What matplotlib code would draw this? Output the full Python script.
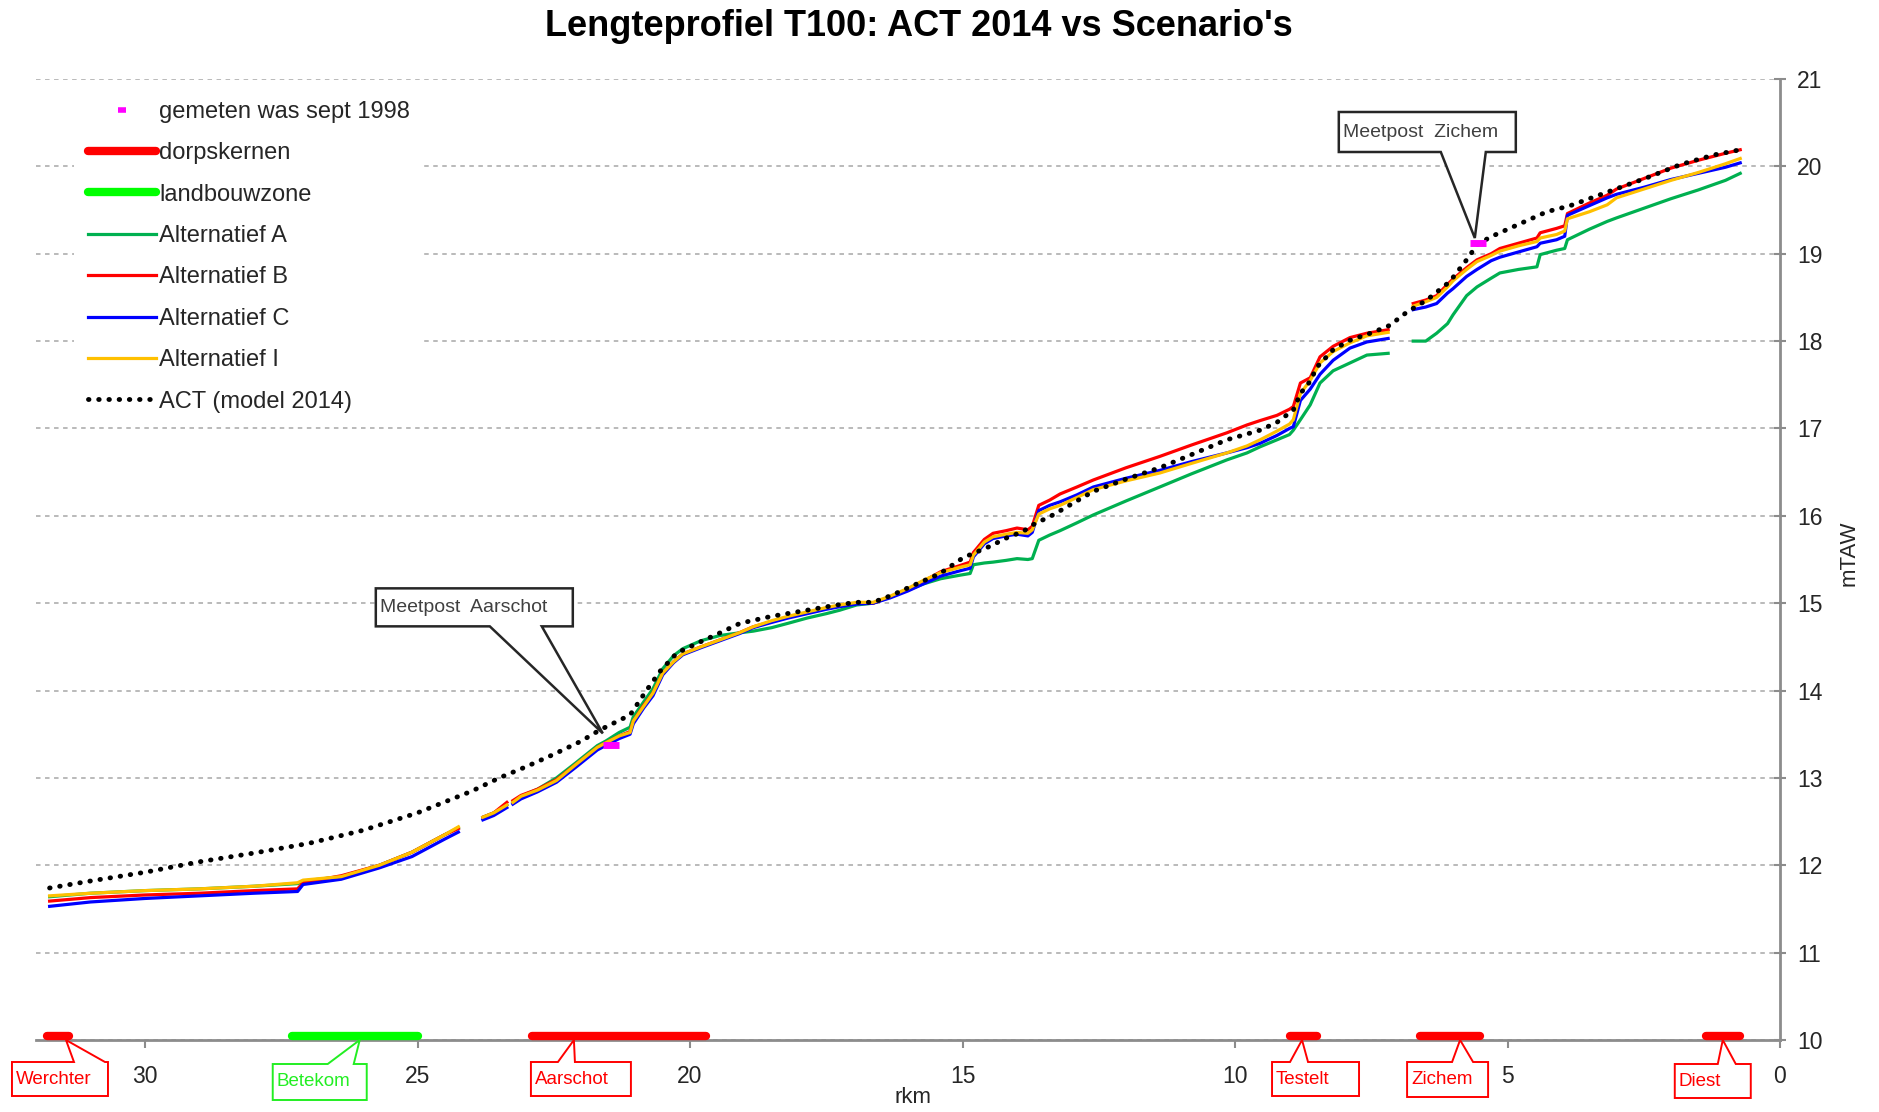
import matplotlib
matplotlib.use("Agg")

import numpy as np
import matplotlib.pyplot as plt
from matplotlib.lines import Line2D
from matplotlib.patches import Polygon
from matplotlib.transforms import IdentityTransform

plt.rcParams["font.family"] = ["Liberation Sans", "DejaVu Sans"]

nan = np.nan

# ──────────────────────────────────────────────
# Data (rkm, waterpeil in mTAW)
# ──────────────────────────────────────────────
rkm_alt = [31.75, 31.0, 30.0, 29.0, 28.0, 27.2, 27.1, 26.4, 25.7, 25.1,
           24.5, 24.25, nan, 23.8, 23.6, 23.36, nan, 23.25, 23.1, 22.8,
           22.45, 22.1, 21.7, 21.55, 21.3, 21.1, 21.04, 20.85, 20.68, 20.5,
           20.3, 20.13, 19.8, 19.45, 19.1, 18.84, 18.5, 18.2, 17.85, 17.5,
           17.25, 16.94, 16.64, 16.33, 16.0, 15.72, 15.4, 15.05, 14.86, 14.8,
           14.6, 14.44, 14.2, 14.0, 13.8, 13.72, 13.6, 13.4, 13.21, 12.9,
           12.6, 12.0, 11.38, 10.8, 10.15, 9.78, 9.54, 9.23, 9.0, 8.93,
           8.8, 8.62, 8.44, 8.2, 7.89, 7.58, 7.19, nan, 6.73, 6.5,
           6.3, 6.1, 6.0, 5.75, 5.56, 5.3, 5.14, 4.8, 4.46, 4.4,
           4.1, 3.95, 3.9, 3.5, 3.17, 3.0, 2.5, 2.0, 1.5, 1.0,
           0.73]

alt_a = [11.64, 11.68, 11.71, 11.73, 11.76, 11.79, 11.82, 11.87, 12.00, 12.15,
         12.35, 12.43, nan, 12.55, 12.60, 12.69, nan, 12.72, 12.79, 12.87,
         13.00, 13.17, 13.37, 13.42, 13.52, 13.58, 13.70, 13.87, 14.02, 14.25,
         14.40, 14.48, 14.57, 14.63, 14.66, 14.68, 14.72, 14.77, 14.83, 14.88,
         14.92, 14.98, 15.00, 15.07, 15.15, 15.22, 15.28, 15.32, 15.34, 15.44,
         15.46, 15.47, 15.49, 15.51, 15.50, 15.51, 15.72, 15.78, 15.83, 15.92,
         16.01, 16.17, 16.33, 16.48, 16.64, 16.72, 16.79, 16.87, 16.93, 16.98,
         17.10, 17.27, 17.52, 17.66, 17.75, 17.84, 17.86, nan, 18.00, 18.00,
         18.09, 18.20, 18.30, 18.52, 18.62, 18.72, 18.78, 18.82, 18.85, 18.99,
         19.04, 19.06, 19.16, 19.28, 19.37, 19.41, 19.52, 19.63, 19.73, 19.84,
         19.92]

alt_b = [11.59, 11.63, 11.66, 11.68, 11.71, 11.73, 11.80, 11.88, 12.00, 12.15,
         12.35, 12.42, nan, 12.55, 12.60, 12.72, nan, 12.74, 12.80, 12.87,
         12.98, 13.15, 13.35, 13.40, 13.48, 13.53, 13.65, 13.83, 13.97, 14.20,
         14.33, 14.42, 14.50, 14.58, 14.66, 14.73, 14.79, 14.84, 14.89, 14.94,
         14.97, 15.00, 15.00, 15.07, 15.16, 15.25, 15.36, 15.43, 15.47, 15.58,
         15.73, 15.80, 15.83, 15.86, 15.84, 15.88, 16.12, 16.18, 16.25, 16.33,
         16.41, 16.55, 16.68, 16.81, 16.95, 17.04, 17.09, 17.15, 17.22, 17.25,
         17.52, 17.58, 17.82, 17.94, 18.04, 18.09, 18.13, nan, 18.43, 18.47,
         18.52, 18.65, 18.71, 18.84, 18.93, 19.00, 19.06, 19.12, 19.18, 19.24,
         19.29, 19.32, 19.46, 19.58, 19.67, 19.74, 19.86, 19.98, 20.07, 20.15,
         20.19]

alt_c = [11.53, 11.58, 11.62, 11.65, 11.68, 11.70, 11.78, 11.84, 11.97, 12.10,
         12.30, 12.38, nan, 12.52, 12.57, 12.66, nan, 12.70, 12.76, 12.84,
         12.95, 13.12, 13.32, 13.37, 13.45, 13.50, 13.62, 13.80, 13.94, 14.18,
         14.32, 14.41, 14.49, 14.57, 14.65, 14.72, 14.78, 14.83, 14.88, 14.93,
         14.96, 14.99, 15.00, 15.06, 15.14, 15.22, 15.31, 15.37, 15.40, 15.53,
         15.68, 15.74, 15.77, 15.79, 15.77, 15.81, 16.06, 16.12, 16.16, 16.24,
         16.33, 16.43, 16.52, 16.62, 16.72, 16.78, 16.83, 16.92, 17.00, 17.02,
         17.32, 17.45, 17.62, 17.78, 17.92, 17.99, 18.03, nan, 18.36, 18.39,
         18.43, 18.55, 18.60, 18.74, 18.82, 18.92, 18.96, 19.02, 19.08, 19.12,
         19.16, 19.20, 19.44, 19.55, 19.64, 19.68, 19.76, 19.85, 19.92, 19.99,
         20.04]

alt_i = [11.65, 11.68, 11.71, 11.73, 11.76, 11.80, 11.83, 11.87, 12.00, 12.15,
         12.35, 12.44, nan, 12.55, 12.60, 12.69, nan, 12.72, 12.79, 12.86,
         12.97, 13.15, 13.35, 13.40, 13.48, 13.52, 13.65, 13.82, 13.97, 14.20,
         14.33, 14.42, 14.50, 14.58, 14.66, 14.73, 14.80, 14.85, 14.90, 14.95,
         14.98, 15.01, 15.01, 15.08, 15.17, 15.26, 15.35, 15.41, 15.44, 15.55,
         15.70, 15.76, 15.79, 15.81, 15.80, 15.84, 16.02, 16.08, 16.12, 16.21,
         16.30, 16.40, 16.49, 16.60, 16.72, 16.80, 16.87, 16.97, 17.05, 17.10,
         17.40, 17.55, 17.75, 17.88, 17.98, 18.06, 18.10, nan, 18.40, 18.45,
         18.50, 18.62, 18.69, 18.82, 18.91, 18.98, 19.03, 19.09, 19.14, 19.18,
         19.22, 19.26, 19.40, 19.48, 19.56, 19.64, 19.74, 19.84, 19.93, 20.03,
         20.09]

rkm_act = [31.75, 31.0, 30.0, 29.0, 28.0, 27.0, 26.0, 25.0, 24.0, 23.5,
           23.0, 22.5, 22.0, 21.65, 21.1, 20.8, 20.55, 20.24, 19.8, 19.45,
           19.08, 18.5, 17.85, 17.3, 16.94, 16.64, 16.3, 16.02, 15.41, 14.99,
           14.5, 14.18, 13.89, 13.7, 13.34, 12.6, 12.0, 11.38, 10.8, 10.15,
           9.54, 9.23, 8.93, 8.8, 8.62, 8.5, 8.2, 7.89, 7.47, 7.16,
           6.85, 6.48, 6.06, 5.75, 5.56, 5.32, 4.89, 4.28, 3.85, 3.06,
           2.44, 1.83, 1.22, 0.73]
act_2014 = [11.74, 11.82, 11.92, 12.04, 12.14, 12.25, 12.40, 12.60, 12.85, 13.00,
            13.13, 13.27, 13.42, 13.55, 13.72, 14.00, 14.22, 14.43, 14.56, 14.66,
            14.77, 14.85, 14.92, 14.98, 15.01, 15.01, 15.09, 15.17, 15.34, 15.52,
            15.65, 15.75, 15.82, 15.90, 16.01, 16.28, 16.42, 16.55, 16.70, 16.87,
            16.98, 17.07, 17.21, 17.40, 17.54, 17.70, 17.90, 18.01, 18.10, 18.18,
            18.33, 18.47, 18.68, 18.93, 19.10, 19.19, 19.31, 19.48, 19.55, 19.73,
            19.87, 20.02, 20.13, 20.19]

# metingen sept 1998
meas_rkm = [21.45, 5.54]
meas_val = [13.38, 19.12]

# zones langs de as
dorp_from = [31.8, 22.9, 9.0, 6.6, 1.36]
dorp_to = [31.4, 19.7, 8.5, 5.5, 0.73]
landb_from = [27.3]
landb_to = [25.0]

# labels van de zones (tip op rkm)
zone_names = ["Werchter", "Betekom", "Aarschot", "Testelt", "Zichem", "Diest"]
zone_tip = [31.45, 26.06, 22.13, 8.77, 5.87, 1.05]
zone_colors = ["#ff0000", "#22ee22", "#ff0000", "#ff0000", "#ff0000", "#ff0000"]

# meetposten
post_names = ["Meetpost  Aarschot", "Meetpost  Zichem"]
post_rkm = [21.6, 5.6]
post_val = [13.51, 19.18]

W, H = 1879, 1112
fig = plt.figure(figsize=(W / 100, H / 100), dpi=100)
ax = fig.add_axes([36 / W, 1 - 1040 / H, (1780 - 36) / W, (1040 - 79) / H])

ax.set_xlim(32, 0)
ax.set_ylim(10, 21)

# lijnen
l_a, = ax.plot(rkm_alt, alt_a, color="#00b050", lw=2.3, label="Alternatief A")
l_b, = ax.plot(rkm_alt, alt_b, color="#ff0000", lw=2.3, label="Alternatief B")
l_c, = ax.plot(rkm_alt, alt_c, color="#0000ff", lw=2.3, label="Alternatief C")
l_i, = ax.plot(rkm_alt, alt_i, color="#ffc000", lw=2.3, label="Alternatief I")
l_act, = ax.plot(rkm_act, act_2014, color="black", lw=3.5,
                 linestyle=(0, (0.1, 2.0)), dash_capstyle="round",
                 label="ACT (model 2014)")
ax.plot(meas_rkm, meas_val, ls="none", marker="_", ms=12, mew=5,
        color="#ff00ff", zorder=5)

for x0, x1 in zip(dorp_from, dorp_to):
    ax.plot([x0, x1], [10.05, 10.05], color="#ff0000", lw=6,
            solid_capstyle="round", clip_on=False, zorder=6)
for x0, x1 in zip(landb_from, landb_to):
    ax.plot([x0, x1], [10.05, 10.05], color="#00ff00", lw=6,
            solid_capstyle="round", clip_on=False, zorder=6)

# assen
for side in ["left", "top"]:
    ax.spines[side].set_visible(False)
for side in ["right", "bottom"]:
    ax.spines[side].set_color("#8c8c8c")
    ax.spines[side].set_linewidth(2)
ax.yaxis.tick_right()
ax.yaxis.set_label_position("right")
ax.set_yticks(range(10, 22))
ax.set_xticks(range(0, 31, 5))
ax.tick_params(axis="y", direction="inout", length=9, width=1.5,
               color="#8c8c8c", labelsize=16.5, pad=8, labelcolor="#262626")
ax.tick_params(axis="x", direction="out", length=6, width=1.5,
               color="#8c8c8c", labelsize=16.5, pad=12, labelcolor="#262626")
ax.yaxis.grid(True, linestyle=(0, (2.5, 2.5)), color="#b4b4b4", lw=1.3)
ax.set_axisbelow(True)

ax.set_xlabel("rkm", fontsize=16, color="#262626")
ax.xaxis.set_label_coords((913 - 36) / 1744, -(1087 - 1040) / 961)
ax.set_ylabel("mTAW", fontsize=16, color="#262626")
ax.yaxis.label.set_va("center")
ax.yaxis.set_label_coords((1849 - 36) / 1744, (1040 - 553) / 961)

fig.text(919 / W, 1 - 27 / H, "Lengteprofiel T100: ACT 2014 vs Scenario's",
         ha="center", va="center", fontsize=26, fontweight="bold")

# legende
h_meas = Line2D([], [], ls="none", marker="_", ms=6, mew=4, color="#ff00ff")
h_dorp = Line2D([], [], color="#ff0000", lw=6, solid_capstyle="round")
h_landb = Line2D([], [], color="#00ff00", lw=6, solid_capstyle="round")
handles = [h_meas, h_dorp, h_landb, l_a, l_b, l_c, l_i, l_act]
labels = ["gemeten was sept 1998", "dorpskernen", "landbouwzone",
          "Alternatief A", "Alternatief B", "Alternatief C", "Alternatief I",
          "ACT (model 2014)"]
leg = ax.legend(handles, labels, loc="upper left",
                bbox_to_anchor=(26 / 1744, 1 + 4 / 961), fontsize=17,
                frameon=True, facecolor="white", edgecolor="none",
                framealpha=1, handlelength=2.9, handletextpad=0.12,
                labelspacing=0.82, borderpad=0.6)
for t in leg.get_texts():
    t.set_color("#262626")

# callouts (pixelcoordinaten t.o.v. de tip, y naar beneden)
ident = IdentityTransform()


def callout(tip, text, box, wedge, color, lw, fs, textcolor, below=True):
    tx, ty = ax.transData.transform(tip)
    x0, x1, y0, y1 = box
    w0, w1 = wedge
    if below:
        pts = [(x0, y0), (w0, y0), (0, 0), (w1, y0), (x1, y0), (x1, y1), (x0, y1)]
    else:
        pts = [(x0, y0), (x1, y0), (x1, y1), (w1, y1), (0, 0), (w0, y1), (x0, y1)]
    verts = [(tx + dx, ty - dy) for dx, dy in pts]
    poly = Polygon(verts, closed=True, facecolor="white", edgecolor=color,
                   lw=lw, transform=ident, zorder=10)
    fig.add_artist(poly)
    fig.text(tx + x0 + 4, ty - (y0 + y1) / 2, text, transform=ident,
             ha="left", va="center", fontsize=fs, color=textcolor, zorder=11)


zone_boxes = [(-54, 42, 22, 56), (-87, 7, 24, 60), (-43, 57, 22, 56),
              (-30, 57, 22, 56), (-53, 28, 22, 57), (-48, 28, 24, 58)]
zone_wedges = [(8, 39), (-32, -6), (-16, 1), (-12, 6), (-8, 13), (-5, 13)]
for name, km, col, bx, wg in zip(zone_names, zone_tip, zone_colors,
                                 zone_boxes, zone_wedges):
    callout((km, 10), name, bx, wg, col, 1.4, 13.5, col, below=True)

post_boxes = [(-227, -30, -145, -107), (-136, 41, -126, -86)]
post_wedges = [(-113, -61), (-34, 11)]
for name, km, v, bx, wg in zip(post_names, post_rkm, post_val,
                               post_boxes, post_wedges):
    callout((km, v), name, bx, wg, "#262626", 1.8, 14, "#404040", below=False)

fig.savefig("out.png", dpi=100)
